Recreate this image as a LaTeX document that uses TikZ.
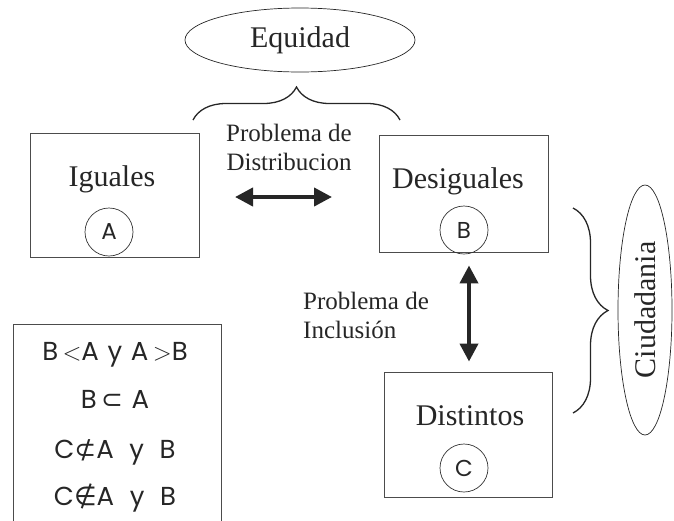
\documentclass[tikz,border=0pt]{standalone}
\usepackage{fontspec}
\setmainfont{Liberation Serif}
\newfontfamily\gothic{Poppins}
\newfontfamily\symfont{DejaVu Sans}
\usetikzlibrary{arrows.meta,decorations.pathreplacing,shapes.geometric}
\begin{document}
\begin{tikzpicture}[x=1pt,y=-1pt,
  box/.style={draw=black!70, line width=0.9pt, inner sep=0pt},
  lbl/.style={anchor=base, font=\fontsize{30}{32}\selectfont, text=black!85},
  lettercirc/.style={draw=black!80, line width=0.7pt, circle, minimum size=48pt, inner sep=0pt, font=\gothic\fontsize{23}{25}\selectfont, text=black!85},
  oval/.style={draw=black!85, line width=0.7pt, ellipse, inner sep=0pt},
  prob/.style={font=\fontsize{25}{29}\selectfont, text=black!85, inner sep=0pt},
  dbl/.style={line width=4pt, draw=black!85, {Triangle[length=18pt,width=18pt]}-{Triangle[length=18pt,width=18pt]}},
  bracestyle/.style={draw=black!85, line width=1.3pt, decorate},
  formula/.style={anchor=base, inner sep=0pt, font=\gothic\fontsize{26}{28}\selectfont, text=black!85}
]
\clip (0,0) rectangle (674,520);

% boxes
\node[box, minimum width=169pt, minimum height=124pt] (ig) at (114.5,195) {};
\node[box, minimum width=169pt, minimum height=117pt] (de) at (463.5,193.5) {};
\node[box, minimum width=168pt, minimum height=125pt] (di) at (468,434.5) {};
\node[box, minimum width=208pt, minimum height=216pt] (fb) at (117,432) {};

% labels
\node[lbl] (igl) at (112,186) {Iguales};
\node[lbl] (del) at (458,188) {Desiguales};
\node[lbl] (dil) at (470,425) {Distintos};

% letter circles
\node[lettercirc] (ca) at (109,232) {A};
\node[lettercirc] (cb) at (464,230) {B};
\node[lettercirc] (cc) at (464,468) {C};

% equidad
\node[oval, minimum width=230pt, minimum height=64pt, font=\fontsize{30}{32}\selectfont, text=black!85] (eq) at (300,40) {Equidad};
\coordinate (bl) at (193,120);
\coordinate (br) at (400,120);
\draw[bracestyle, decoration={brace, amplitude=33pt, aspect=0.5}] (bl) -- (br);

% distribucion
\node[prob, align=center, anchor=base] (pd) at (289,170) {Problema de\\Distribucion};
\coordinate (h1) at (235,197);
\coordinate (h2) at (332,197);
\draw[dbl] (h1) -- (h2);

% inclusion
\node[prob, align=left, anchor=base west] (pi) at (303,338) {Problema de\\Inclusión};
\draw[dbl, shorten <=13pt, shorten >=10pt] (de.south -| 469,0) -- (di.north -| 469,0);

% ciudadania
\coordinate (rt) at (573,208);
\coordinate (rb) at (573,413);
\draw[bracestyle, decoration={brace, amplitude=35pt}] (rt) -- (rb);
\node[oval, minimum width=54pt, minimum height=250pt] (ci) at (645,310) {};
\node[rotate=90, font=\fontsize{30}{32}\selectfont, text=black!85] (cil) at (645,310) {Ciudadania};

% formulas
\node[formula] (f1) at (115,360) {B\,$<$A\,\,y\,\,A\,$>$B};
\node[formula] (f2) at (115,408) {B\,{\symfont ⊂}\,\,A};
\node[formula] (f3) at (115,458) {C{\symfont ⊄}A\,\, y\,\, B};
\node[formula] (f4) at (115,505) {C{\symfont ∉}A\,\, y\,\, B};
\end{tikzpicture}
\end{document}
